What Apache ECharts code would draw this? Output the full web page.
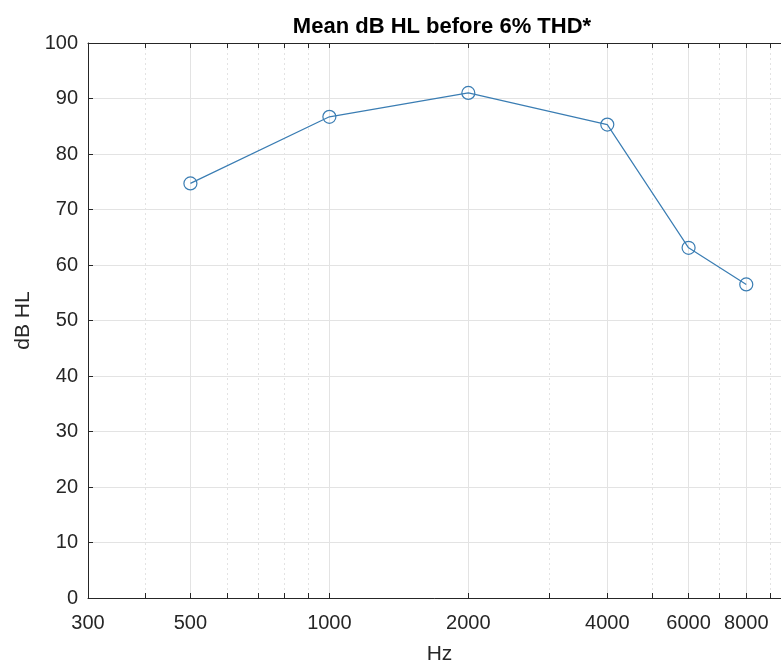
<!DOCTYPE html>
<html>
<head>
<meta charset="utf-8">
<script src="https://cdn.jsdelivr.net/npm/echarts@6/dist/echarts.min.js"></script>
<style>html,body{margin:0;padding:0;background:#fff;}#c{width:781px;height:664px;}</style>
</head>
<body>
<div id="c"></div>
<script>
const frequencies = [500, 1000, 2000, 4000, 6000, 8000];
const meanDbHL = [74.7, 86.7, 91.0, 85.3, 63.1, 56.5];
const xMajorTicks = [300, 500, 1000, 2000, 4000, 6000, 8000];
const xMinorTicks = [400, 600, 700, 800, 900, 3000, 5000, 7000, 9000];
const xAllTicks = xMajorTicks.concat(xMinorTicks).sort((a, b) => a - b);
const yTicks = [0, 10, 20, 30, 40, 50, 60, 70, 80, 90, 100];

const FONT = '"Liberation Sans", Arial, Helvetica, sans-serif';
const TXT = '#262626';
const AXC = '#262626';
const GRIDC = '#e3e3e3';

const baseX = {
  type: 'log', logBase: 10, min: 300, max: 10000,
  gridIndex: 0
};

const chart = echarts.init(document.getElementById('c'));
chart.setOption({
  animation: false,
  backgroundColor: '#fff',
  title: {
    text: 'Mean dB HL before 6% THD*',
    left: 437, top: 11, textAlign: 'center',
    textStyle: { fontFamily: FONT, fontSize: 22, fontWeight: 'bold', color: '#000' }
  },
  grid: { left: 88, top: 43, right: -10, bottom: 66, containLabel: false, outerBoundsMode: 'none' },
  xAxis: [
    Object.assign({}, baseX, {
      position: 'bottom',
      name: 'Hz', nameLocation: 'middle', nameGap: 46,
      nameTextStyle: { fontFamily: FONT, fontSize: 21, color: TXT },
      axisLine: { show: true, lineStyle: { color: AXC, width: 1 } },
      axisTick: { show: true, inside: true, length: 5, customValues: xAllTicks, lineStyle: { color: AXC } },
      axisLabel: { customValues: xMajorTicks, fontFamily: FONT, fontSize: 20, color: TXT, margin: 15, formatter: v => String(Math.round(v)) },
      splitLine: { show: false }, minorTick: { show: false }
    }),
    Object.assign({}, baseX, {
      position: 'top',
      axisLine: { show: true, lineStyle: { color: AXC, width: 1 } },
      axisTick: { show: true, inside: true, length: 5, customValues: xAllTicks, lineStyle: { color: AXC } },
      axisLabel: { show: false, customValues: xMajorTicks },
      splitLine: { show: false }
    }),
    Object.assign({}, baseX, {
      position: 'bottom',
      axisLine: { show: false },
      axisTick: { show: false, customValues: xMajorTicks },
      axisLabel: { show: false, customValues: xMajorTicks },
      splitLine: { show: true, lineStyle: { color: GRIDC, width: 1, type: 'solid' } }
    }),
    Object.assign({}, baseX, {
      position: 'bottom',
      axisLine: { show: false },
      axisTick: { show: false, customValues: xMinorTicks },
      axisLabel: { show: false, customValues: xMinorTicks },
      splitLine: { show: true, lineStyle: { color: GRIDC, width: 1, type: [2, 3] } }
    })
  ],
  yAxis: [{
    type: 'value', min: 0, max: 100, interval: 10,
    name: 'dB HL', nameLocation: 'middle', nameGap: 52, nameRotate: 90,
    nameTextStyle: { fontFamily: FONT, fontSize: 21, color: TXT },
    axisLine: { show: true, lineStyle: { color: AXC, width: 1 } },
    axisTick: { show: true, inside: true, length: 5, lineStyle: { color: AXC } },
    axisLabel: { fontFamily: FONT, fontSize: 20, color: TXT, margin: 10, formatter: v => (yTicks.includes(v) ? String(v) : '') },
    splitLine: { show: true, lineStyle: { color: GRIDC, width: 1 } }
  }],
  series: [{
    type: 'line',
    xAxisIndex: 0, yAxisIndex: 0,
    data: frequencies.map((f, i) => [f, meanDbHL[i]]),
    symbol: 'circle', symbolSize: 13, showSymbol: true,
    lineStyle: { color: '#3a7db3', width: 1.2 },
    itemStyle: { color: 'rgba(0,0,0,0)', borderColor: '#3a7db3', borderWidth: 1.2 },
    z: 10
  }]
});
</script>
</body>
</html>
